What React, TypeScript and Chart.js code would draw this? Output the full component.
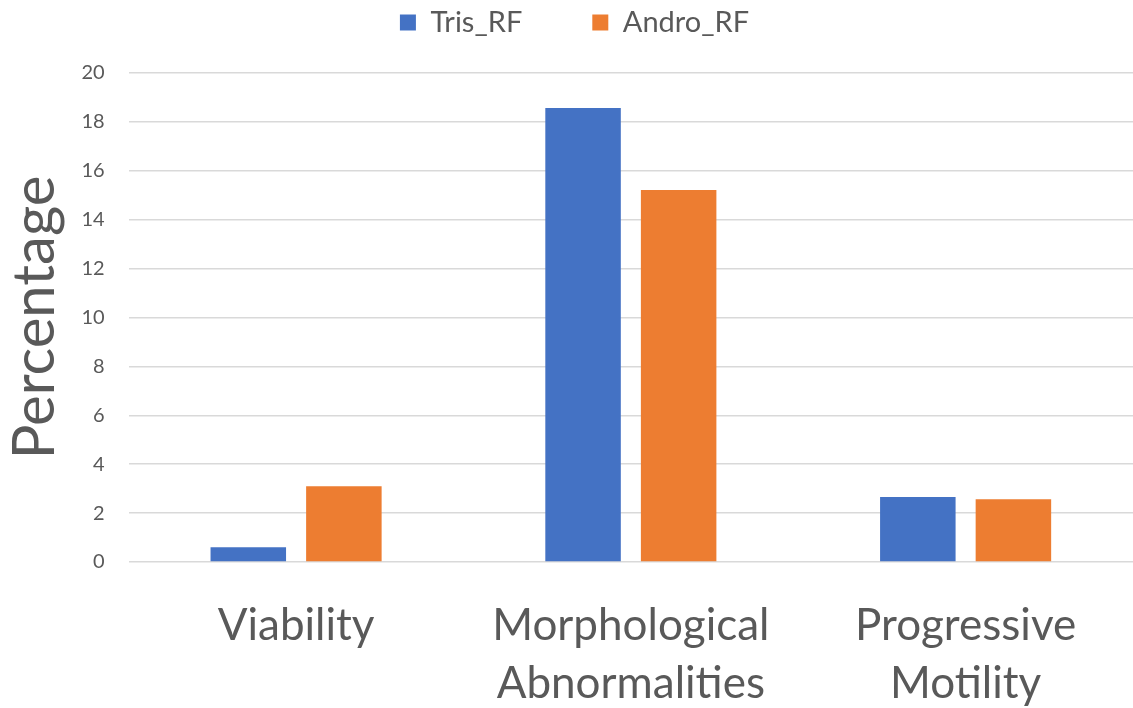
import React, { useEffect, useRef } from "react";
import { Chart, registerables } from "chart.js";

Chart.register(...registerables);

const categories: (string | string[])[] = [
  "Viability",
  ["Morphological", "Abnormalities"],
  ["Progressive", "Motility"],
];
const trisRF = [0.6, 18.57, 2.66];
const androRF = [3.1, 15.21, 2.57];
const seriesNames = ["Tris_RF", "Andro_RF"];

const FONT = "Lato, 'Open Sans', sans-serif";
const TEXT = "#595959";

const legendHeightPlugin = {
  id: "legendHeight",
  beforeInit(chart: any) {
    const legend = chart.legend;
    if (!legend) return;
    const origFit = legend.fit;
    legend.fit = function () {
      origFit.call(this);
      this.height = 135;
    };
  },
};

export default function App() {
  const ref = useRef<HTMLCanvasElement | null>(null);
  useEffect(() => {
    if (!ref.current) return;
    const chart = new Chart(ref.current, {
      type: "bar",
      data: {
        labels: categories,
        datasets: [
          { label: seriesNames[0], data: trisRF, backgroundColor: "#4472C4" },
          { label: seriesNames[1], data: androRF, backgroundColor: "#ED7D31" },
        ],
      },
      plugins: [legendHeightPlugin],
      options: {
        animation: false,
        responsive: false,
        maintainAspectRatio: false,
        layout: { padding: { left: 14, right: -2, top: -62, bottom: -32 } },
        datasets: {
          bar: { categoryPercentage: 0.571, barPercentage: 0.79 },
        },
        plugins: {
          legend: {
            position: "top",
            labels: {
              boxWidth: 16,
              boxHeight: 16,
              padding: 70,
              color: TEXT,
              font: { family: FONT, size: 29 },
            },
          },
          tooltip: { enabled: false },
        },
        scales: {
          x: {
            grid: { display: false },
            border: { display: false },
            ticks: {
              color: TEXT,
              font: { family: FONT, size: 44, lineHeight: "58px" },
              padding: 27,
              maxRotation: 0,
              autoSkip: false,
            },
          },
          y: {
            min: 0,
            max: 20,
            grid: { color: "#d9d9d9", lineWidth: 1.5, drawTicks: false },
            border: { display: false },
            ticks: {
              stepSize: 2,
              autoSkip: false,
              color: TEXT,
              font: { family: FONT, size: 20 },
              padding: 24,
            },
            title: {
              display: true,
              text: "Percentage",
              color: TEXT,
              font: { family: FONT, size: 58, lineHeight: 0.75 },
              padding: { top: 0, bottom: 0 },
            },
          },
        },
      },
    });
    return () => chart.destroy();
  }, []);
  return (
    <div style={{ position: "fixed", left: 0, top: 0, width: 1133, height: 708, background: "#fff" }}>
      <canvas ref={ref} width={1133} height={708} style={{ width: 1133, height: 708 }} />
    </div>
  );
}
